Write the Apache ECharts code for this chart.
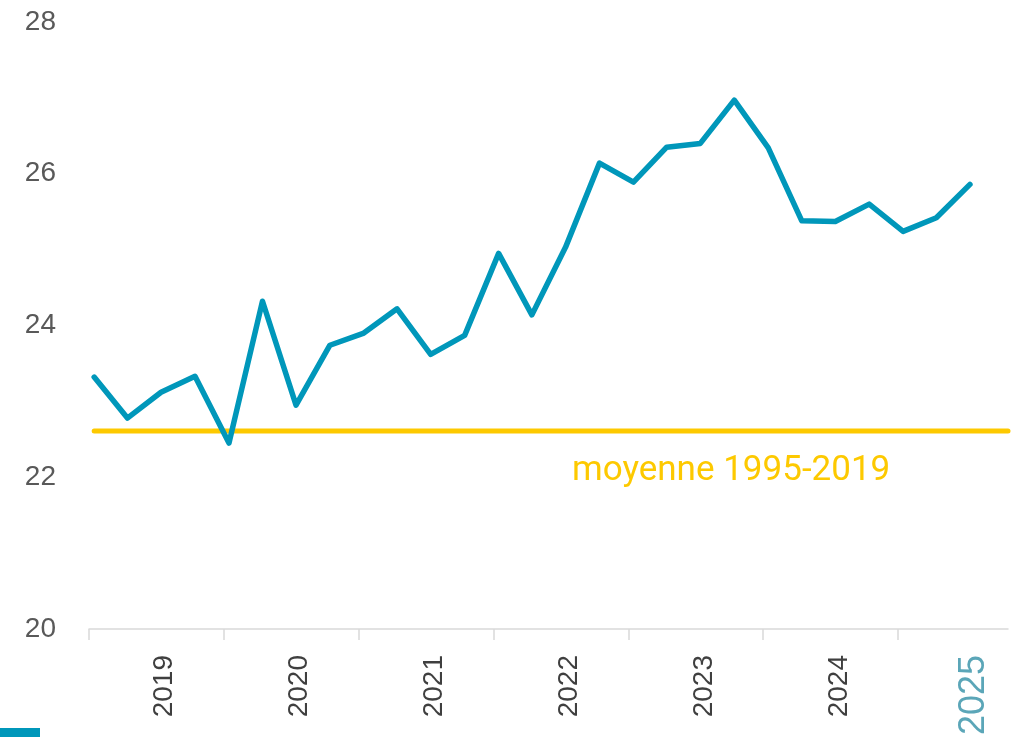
<!DOCTYPE html>
<html>
<head>
<meta charset="utf-8">
<script src="https://cdn.jsdelivr.net/npm/echarts@6/dist/echarts.min.js"></script>
<style>
html,body{margin:0;padding:0;background:#fff;}
#chart{width:1025px;height:737px;}
</style>
</head>
<body>
<div id="chart"></div>
<script>
// Quarterly observations
const quarterDates = [
  '2019-01-15','2019-04-15','2019-07-15','2019-10-15',
  '2020-01-15','2020-04-15','2020-07-15','2020-10-15',
  '2021-01-15','2021-04-15','2021-07-15','2021-10-15',
  '2022-01-15','2022-04-15','2022-07-15','2022-10-15',
  '2023-01-15','2023-04-15','2023-07-15','2023-10-15',
  '2024-01-15','2024-04-15','2024-07-15','2024-10-15',
  '2025-01-15','2025-04-15','2025-07-15'
];
const seriesValues = [
  23.32, 22.78, 23.12, 23.33,
  22.45, 24.32, 22.95, 23.74,
  23.90, 24.22, 23.62, 23.87,
  24.95, 24.14, 25.03, 26.14,
  25.89, 26.35, 26.40, 26.97,
  26.34, 25.38, 25.37, 25.60,
  25.24, 25.42, 25.86
];
const averageValue = 22.61;
const averageLabel = 'moyenne 1995-2019';
const yearLabels = [2019, 2020, 2021, 2022, 2023, 2024, 2025];
const axisStart = '2019-01-01';
const axisEnd = '2025-10-26';

const TEAL = '#0097ba';
const YELLOW = '#fdc900';

// convert a date string to a fractional year
function toYear(d) {
  const t = new Date(d + 'T00:00:00Z');
  const y = t.getUTCFullYear();
  const s = Date.UTC(y, 0, 1), e = Date.UTC(y + 1, 0, 1);
  return y + (t.getTime() - s) / (e - s);
}
const lineData = quarterDates.map((d, i) => [toYear(d), seriesValues[i]]);
const avgData = [[toYear(quarterDates[0]), averageValue], [toYear(axisEnd), averageValue]];
const tickPositions = yearLabels.map(y => y);
const labelPositions = yearLabels.map(y => toYear(y + '-07-25'));
const lastYear = yearLabels[yearLabels.length - 1];

const chart = echarts.init(document.getElementById('chart'), null, {renderer: 'canvas'});
chart.setOption({
  animation: false,
  backgroundColor: '#ffffff',
  grid: {left: 89, right: 17, top: 22, bottom: 108, containLabel: false, outerBoundsMode: 'none'},
  xAxis: {
    type: 'value',
    min: toYear(axisStart),
    max: toYear(axisEnd),
    axisLine: {show: true, lineStyle: {color: '#d9d9d9', width: 1.5}},
    axisTick: {show: true, length: 11, lineStyle: {color: '#d9d9d9', width: 1.5}, customValues: tickPositions},
    splitLine: {show: false},
    axisLabel: {
      show: true,
      rotate: 90,
      margin: 26,
      customValues: labelPositions,
      fontFamily: '"Liberation Sans", sans-serif',
      fontSize: 28,
      color: '#3f3f3f',
      formatter: function (v) {
        const y = Math.floor(v);
        return y === lastYear ? '{last|' + y + '}' : String(y);
      },
      rich: {
        last: {
          color: '#5ba6b8',
          fontSize: 36,
          fontFamily: '"Liberation Sans", sans-serif'
        }
      }
    }
  },
  yAxis: {
    type: 'value',
    min: 20,
    max: 28,
    interval: 2,
    axisLine: {show: false},
    axisTick: {show: false},
    splitLine: {show: false},
    axisLabel: {
      margin: 33,
      fontFamily: '"Liberation Sans", sans-serif',
      fontSize: 28,
      color: '#595959'
    }
  },
  series: [
    {
      name: averageLabel,
      type: 'line',
      data: avgData,
      symbol: 'none',
      silent: true,
      lineStyle: {color: YELLOW, width: 5, cap: 'round'},
      z: 2
    },
    {
      name: 'série',
      type: 'line',
      data: lineData,
      symbol: 'none',
      lineStyle: {color: TEAL, width: 5.5, join: 'round', cap: 'round'},
      z: 3
    }
  ],
  graphic: [
    {
      type: 'text',
      left: 572,
      top: 454,
      style: {
        text: averageLabel,
        fill: YELLOW,
        fontFamily: 'Roboto, sans-serif',
        fontSize: 35
      }
    },
    {
      type: 'rect',
      left: 0,
      top: 728,
      shape: {width: 40, height: 9},
      style: {fill: '#0097ba'}
    }
  ]
});
</script>
</body>
</html>
